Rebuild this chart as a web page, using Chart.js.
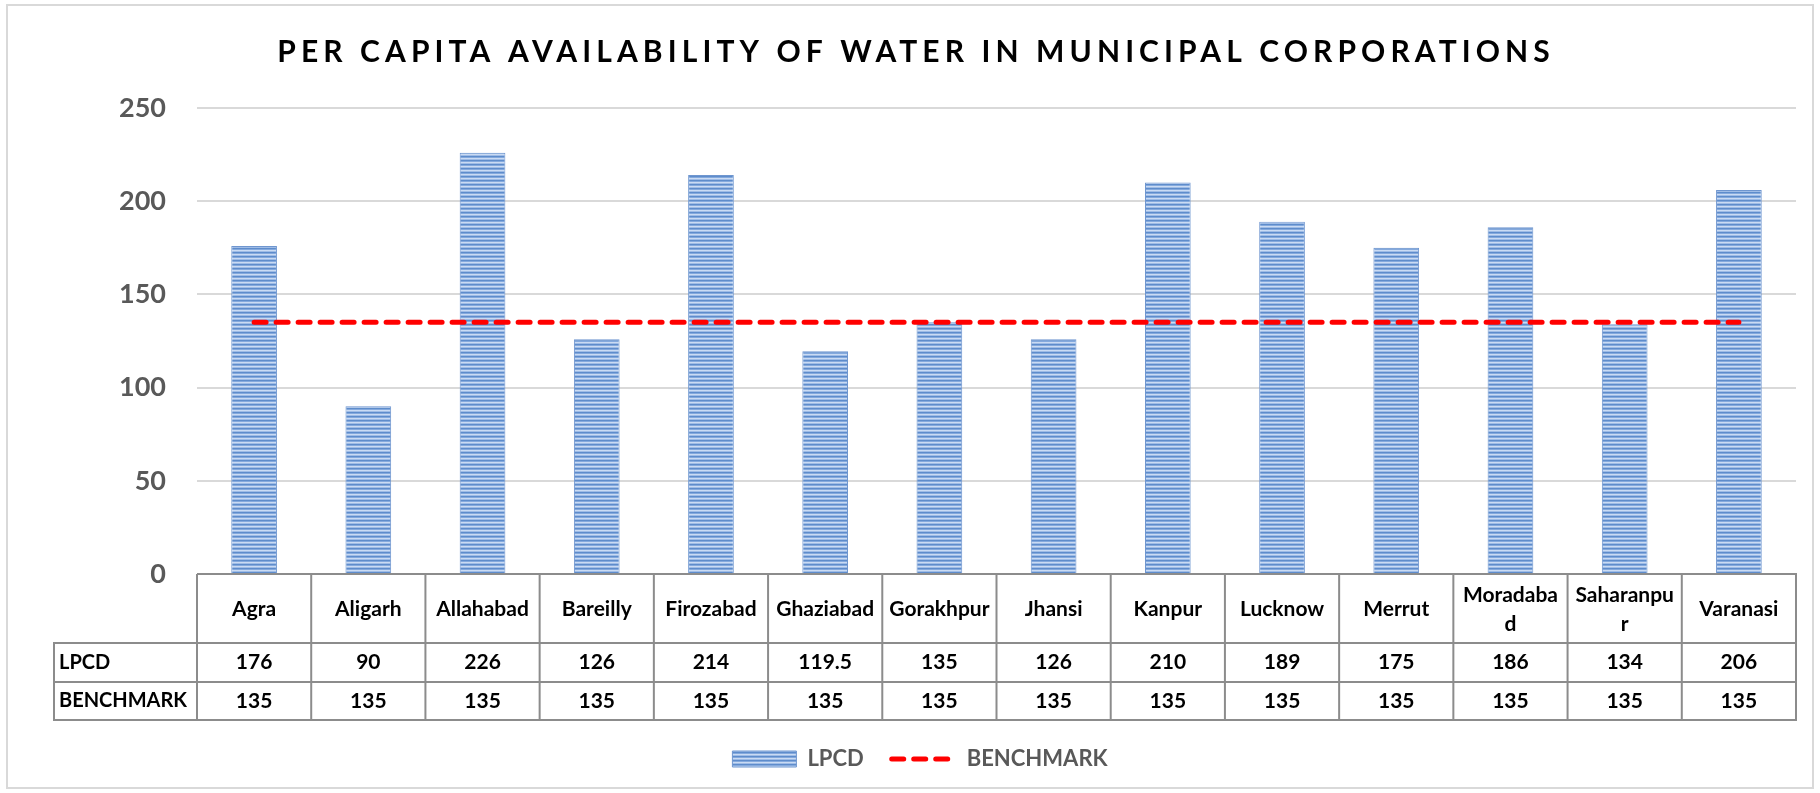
<!DOCTYPE html>
<html>
<head>
<meta charset="utf-8">
<script src="https://cdn.jsdelivr.net/npm/chart.js@4.4.1/dist/chart.umd.min.js"></script>
<style>
  html, body { margin: 0; padding: 0; background: #ffffff; }
  #wrap { width: 1820px; height: 793px; position: relative; }
</style>
</head>
<body>
<div id="wrap"><canvas id="c" width="1820" height="793"></canvas></div>
<script>
// ---------------- DATA ----------------
const TITLE = 'PER CAPITA AVAILABILITY OF WATER IN MUNICIPAL CORPORATIONS';
const categories = ['Agra', 'Aligarh', 'Allahabad', 'Bareilly', 'Firozabad', 'Ghaziabad', 'Gorakhpur',
  'Jhansi', 'Kanpur', 'Lucknow', 'Merrut', ['Moradaba', 'd'], ['Saharanpu', 'r'], 'Varanasi'];
const lpcdValues = [176, 90, 226, 126, 214, 119.5, 135, 126, 210, 189, 175, 186, 134, 206];
const benchmarkValues = [135, 135, 135, 135, 135, 135, 135, 135, 135, 135, 135, 135, 135, 135];
const seriesNames = ['LPCD', 'BENCHMARK'];
const yMin = 0, yMax = 250, yStep = 50;

// ---------------- STYLE ----------------
const FONT = 'Lato, "Open Sans", sans-serif';
function stripePattern() {
  const c = document.createElement('canvas');
  c.width = 4; c.height = 4;
  const g = c.getContext('2d');
  const rows = ['#5E8CCB', '#84A9DD', '#CADBF3', '#9FBCE6'];
  rows.forEach((col, i) => { g.fillStyle = col; g.fillRect(0, i, 4, 1); });
  return g.createPattern(c, 'repeat');
}

const framePlugin = {
  id: 'frame',
  beforeDraw(chart) {
    const ctx = chart.ctx;
    ctx.save();
    ctx.fillStyle = '#ffffff';
    ctx.fillRect(0, 0, chart.width, chart.height);
    ctx.strokeStyle = '#D9D9D9';
    ctx.lineWidth = 2;
    ctx.strokeRect(7, 5, chart.width - 14, chart.height - 10);
    ctx.restore();
  }
};

const titlePlugin = {
  id: 'spacedTitle',
  afterDraw(chart) {
    const ctx = chart.ctx;
    const sp = 5.1;
    ctx.save();
    ctx.font = 'bold 30px ' + FONT;
    ctx.letterSpacing = sp + 'px';
    ctx.fillStyle = '#000000';
    ctx.textAlign = 'center';
    ctx.textBaseline = 'alphabetic';
    ctx.fillText(TITLE, 913.5 + sp / 2, 62);
    ctx.restore();
  }
};

const tablePlugin = {
  id: 'dataTable',
  afterDraw(chart) {
    const ctx = chart.ctx;
    const ca = chart.chartArea;
    const x = chart.scales.x;
    const top = ca.bottom;
    const r1 = top + 69, r2 = r1 + 39, r3 = r2 + 38;
    const left = 54;
    const n = chart.data.labels.length;
    ctx.save();
    ctx.strokeStyle = '#8C8C8C';
    ctx.lineWidth = 2;
    ctx.beginPath();
    ctx.moveTo(ca.left, top); ctx.lineTo(ca.right + 1, top);
    [r1, r2, r3].forEach(y => { ctx.moveTo(left - 1, y); ctx.lineTo(ca.right + 1, y); });
    for (let i = 0; i <= n; i++) {
      const px = x.getPixelForValue(i - 0.5);
      ctx.moveTo(px, top); ctx.lineTo(px, r3);
    }
    ctx.moveTo(left, r1); ctx.lineTo(left, r3);
    ctx.stroke();

    const dsL = chart.data.datasets[0], dsB = chart.data.datasets[1];
    ctx.fillStyle = '#000000';
    ctx.font = 'bold 21px ' + FONT;
    ctx.textBaseline = 'middle';
    ctx.textAlign = 'center';
    const hc = (top + r1) / 2 + 1, lc = (r1 + r2) / 2, bc = (r2 + r3) / 2;
    chart.data.labels.forEach((lab, i) => {
      const cx = x.getPixelForValue(i);
      const lines = Array.isArray(lab) ? lab : [lab];
      const lh = 29;
      lines.forEach((t, j) => ctx.fillText(t, cx, hc + (j - (lines.length - 1) / 2) * lh));
      ctx.fillText(String(dsL.data[i]), cx, lc);
      ctx.fillText(String(dsB.data[i]), cx, bc);
    });
    ctx.textAlign = 'left';
    ctx.font = 'bold 20px ' + FONT;
    ctx.fillText(dsL.label, 59, lc);
    ctx.fillText(dsB.label, 59, bc);
    ctx.restore();
  }
};

function build() {
  const pattern = stripePattern();
  new Chart(document.getElementById('c'), {
    data: {
      labels: categories,
      datasets: [
        {
          type: 'bar',
          label: seriesNames[0],
          data: lpcdValues,
          backgroundColor: pattern,
          borderColor: '#6F96CF',
          borderWidth: { left: 1, right: 1, top: 1, bottom: 0 },
          borderSkipped: 'start',
          barPercentage: 0.4,
          categoryPercentage: 1.0,
          order: 1
        },
        {
          type: 'line',
          label: seriesNames[1],
          data: benchmarkValues,
          borderColor: '#FF0000',
          backgroundColor: '#FF0000',
          borderWidth: 5,
          borderDash: [12, 10],
          borderCapStyle: 'round',
          pointRadius: 0,
          pointHoverRadius: 0,
          fill: false,
          order: 0
        }
      ]
    },
    options: {
      responsive: false,
      animation: false,
      events: [],
      layout: { padding: { left: 44, right: 24, top: 108, bottom: 13 } },
      scales: {
        x: {
          type: 'category',
          offset: true,
          grid: { display: false, drawTicks: false },
          border: { display: false },
          ticks: { display: false },
          afterFit(s) { s.height = 146; }
        },
        y: {
          min: yMin, max: yMax,
          grid: { color: '#D9D9D9', lineWidth: 2, drawTicks: false },
          border: { display: false },
          ticks: {
            stepSize: yStep,
            padding: 31,
            color: '#595959',
            font: { family: FONT, size: 27, weight: 'bold' }
          },
          afterFit(s) { s.width = 153; }
        }
      },
      plugins: {
        title: { display: false },
        tooltip: { enabled: false },
        legend: {
          position: 'bottom',
          labels: {
            usePointStyle: true,
            pointStyleWidth: 64,
            boxHeight: 16,
            padding: 28,
            color: '#595959',
            font: { family: FONT, size: 22, weight: 'bold' },
            generateLabels(chart) {
              const ds = chart.data.datasets;
              return [
                { text: ds[0].label, fillStyle: pattern, strokeStyle: '#6F96CF', lineWidth: 1,
                  pointStyle: 'rect', datasetIndex: 0, fontColor: '#595959' },
                { text: ds[1].label, fillStyle: '#FF0000', strokeStyle: '#FF0000', lineWidth: 5,
                  lineDash: [12, 10], lineCap: 'round', pointStyle: 'line', datasetIndex: 1, fontColor: '#595959' }
              ];
            }
          }
        }
      }
    },
    plugins: [framePlugin, tablePlugin, titlePlugin]
  });
}

if (document.fonts && document.fonts.load) {
  Promise.all([
    document.fonts.load('bold 21px Lato'),
    document.fonts.load('bold 30px Lato')
  ]).then(build, build);
} else {
  build();
}
</script>
</body>
</html>
